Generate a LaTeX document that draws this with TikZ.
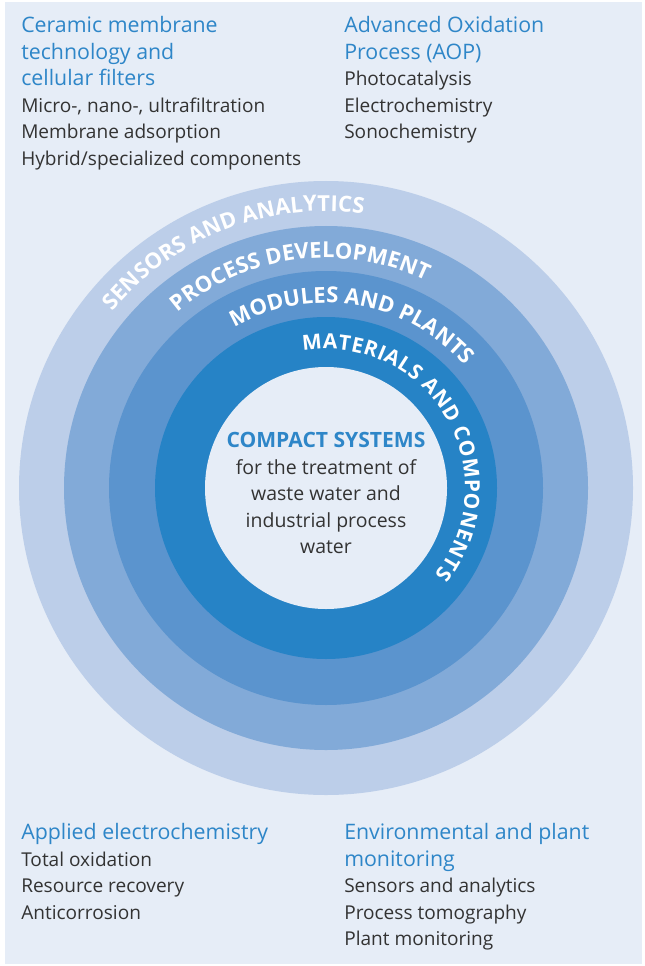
\documentclass[tikz,border=0pt]{standalone}
\usepackage{fontspec}
\setmainfont{Open Sans}
\usetikzlibrary{decorations.text}
\definecolor{bgcol}{HTML}{E6EDF7}
\definecolor{ringa}{HTML}{BCCEE9}
\definecolor{ringb}{HTML}{82AAD8}
\definecolor{ringc}{HTML}{5B94CE}
\definecolor{ringd}{HTML}{2683C6}
\definecolor{titleblue}{HTML}{2E86C8}
\definecolor{bodygrey}{HTML}{333333}
\newcommand{\ttl}[1]{\textcolor{titleblue}{\fontsize{16}{19.9}\selectfont #1}}
\begin{document}
\begin{tikzpicture}[x=0.75pt,y=0.75pt,
  block/.style={anchor=north west, inner sep=0pt, align=left, font=\fontsize{14.3}{19.9}\selectfont, text=bodygrey},
  ringlabel/.style 2 args={decorate, decoration={text along path, text align=fit to path, text color=white,
     text={|\fontsize{#1}{19}\selectfont\bfseries|#2}}}]
\useasboundingbox (0,0) rectangle (645,-966);
\fill[white] (0,0) rectangle (645,-966);
\fill[bgcol] (5,-2) rectangle (642,-964);
\coordinate (c) at (326,-488);
\fill[ringa] (c) circle[radius=307];
\fill[ringb] (c) circle[radius=262];
\fill[ringc] (c) circle[radius=217];
\fill[ringd] (c) circle[radius=171];
\fill[bgcol] (c) circle[radius=121];
% ring labels
\path[ringlabel={16.5}{SENSORS AND ANALYTICS}]
  (c) ++(140.4:277) arc[start angle=140.4, end angle=82.2, radius=277];
\path[ringlabel={16.5}{PROCESS DEVELOPMENT}]
  (c) ++(130.2:230) arc[start angle=130.2, end angle=64.8, radius=230];
\path[ringlabel={16.5}{MODULES AND PLANTS}]
  (c) ++(119.7:185) arc[start angle=119.7, end angle=41.5, radius=185];
\path[ringlabel={15.6}{MATERIALS AND COMPONENTS}]
  (c) ++(99.6:139) arc[start angle=99.6, end angle=-38.5, radius=139];
% centre
\node[anchor=north, inner sep=0pt, align=center, font=\fontsize{14.6}{19.9}\selectfont, text=bodygrey] (centre) at (326,-432)
  {\textcolor{titleblue}{\fontsize{15.8}{19.9}\selectfont\bfseries COMPACT SYSTEMS}\\for the treatment of\\waste water and\\industrial process\\water};
% corner blocks
\node[block] (tl) at (21,-16) {\ttl{Ceramic membrane}\\\ttl{technology and}\\\ttl{cellular filters}\\Micro-, nano-, ultrafiltration\\Membrane adsorption\\Hybrid/specialized components};
\node[block] (tr) at (344,-16) {\ttl{Advanced Oxidation}\\\ttl{Process (AOP)}\\Photocatalysis\\Electrochemistry\\Sonochemistry};
\node[block] (bl) at (21,-823) {\ttl{Applied electrochemistry}\\Total oxidation\\Resource recovery\\Anticorrosion};
\node[block] (br) at (344,-823) {\ttl{Environmental and plant}\\\ttl{monitoring}\\Sensors and analytics\\Process tomography\\Plant monitoring};
\end{tikzpicture}
\end{document}
